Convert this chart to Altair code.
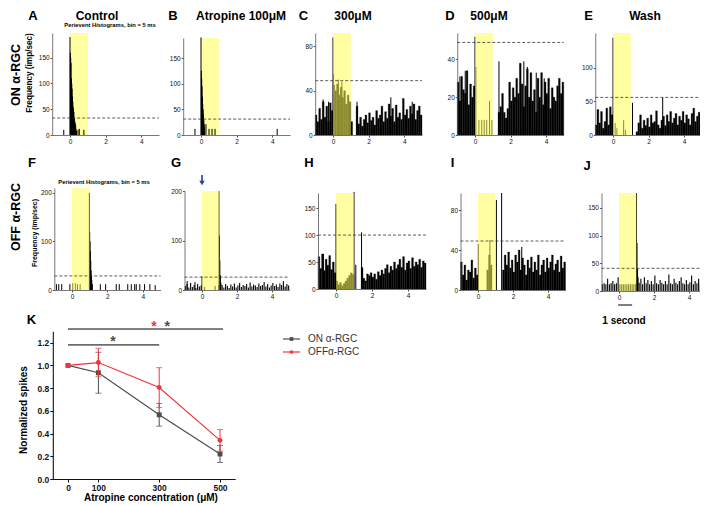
import altair as alt
import pandas as pd

FONT = "Liberation Sans"
W, H = 692, 497
M = 8

# ---------------- text content ----------------
ROW_LABELS = ["ON α-RGC", "OFF α-RGC"]
TITLES = ["Control", "Atropine 100μM", "300μM", "500μM", "Wash"]
LETTERS = ["A", "B", "C", "D", "E", "F", "G", "H", "I", "J", "K"]
Y_LABEL = "Frequency (imp/sec)"
PERI = "Perievent Histograms, bin = 5 ms"
X_TICKS = [0, 2, 4]

# ---------------- histogram data (0.1 s bins from -1 s to 5 s) ----------------
BIN_START = [round(-1.0 + 0.1 * i, 1) for i in range(60)]

C_BASE = [18, 12, 24, 14, 30, 16, 26, 12, 29, 22,
          45, 40, 46, 36, 43, 34, 40, 28, 36, 30,
          12, 0, 0, 26,
          10, 16, 8, 14, 18, 11, 20, 13, 16, 9, 22, 15, 18, 26, 12, 21, 15, 28, 17, 24,
          12, 27, 16, 20, 14, 33, 18, 23, 15, 26, 19, 28, 14, 22, 26, 18]
D_BASE = [28, 18, 31, 24, 22, 34, 16, 27, 20, 26,
          0, 0, 0, 0, 0, 0, 0, 0, 0, 0,
          0, 0, 0, 12,
          15, 22, 12, 9, 14, 28, 18, 25, 20, 30, 22, 38, 27, 15, 26, 35, 20, 33, 18, 24,
          12, 30, 20, 33, 16, 28, 22, 30, 14, 25, 20, 18, 26, 30, 22, 28]
E_BASE = [15, 38, 18, 35, 10, 20, 40, 15, 42, 30,
          0, 0, 0, 0, 0, 0, 0, 0, 0, 0,
          0, 0, 0, 5,
          18, 30, 10, 22, 14, 25, 12, 30, 18, 20, 36, 15, 10, 22, 28, 14, 30, 20, 35, 18,
          25, 32, 15, 28, 22, 35, 18, 30, 24, 15, 32, 40, 20, 28, 34, 25]
G_BASE = [8, 12, 5, 14, 6, 10, 4, 12, 7, 9,
          0, 6, 0, 0, 0, 0, 0, 8, 0, 10,
          6, 10, 5, 12, 8, 4, 11, 7, 13, 5, 9, 14, 6, 10, 8, 12, 5, 15, 7, 11,
          9, 6, 13, 8, 10, 16, 7, 12, 5, 9, 14, 8, 11, 6, 13, 10, 18, 7, 12, 9]
H_BASE = [60, 38, 65, 34, 55, 44, 62, 36, 50, 30,
          15, 8, 12, 6, 10, 15, 20, 25, 30, 27,
          0, 0, 0, 0,
          40, 20, 15, 28, 25, 30, 22, 28, 18, 32, 25, 35, 28, 38, 45, 30, 42, 35, 50, 38,
          45, 55, 40, 60, 35, 48, 52, 38, 58, 42, 50, 45, 55, 40, 52, 48]
I_BASE = [28, 15, 25, 10, 20, 18, 30, 12, 22, 15,
          0, 0, 0, 0, 0, 20, 35, 25, 0, 0,
          0, 0, 0, 0,
          20, 35, 25, 38, 22, 30, 18, 35, 28, 40, 20, 32, 25, 15, 30, 22, 33, 18, 28, 20,
          35, 15, 25, 30, 18, 32, 22, 28, 35, 20, 26, 30, 18, 34, 22, 28]
J_BASE = [12, 14, 12, 22, 12, 14, 18, 12, 14, 25,
          12, 12, 12, 12, 12, 12, 12, 12, 12, 12,
          0, 15, 22, 12, 25, 14, 20, 12, 18, 12, 28, 14, 12, 20, 15, 12, 18, 12, 30, 14,
          12, 22, 15, 12, 18, 25, 14, 12, 20, 12, 16, 28, 12, 18, 14, 22, 12, 15, 30, 18]

# isolated spikes: (time s, imp/sec)
A_SPK = [(-0.35, 10), (0.0, 190), (0.02, 160), (0.04, 150), (0.06, 140), (0.08, 110), (0.1, 100),
         (0.12, 90), (0.14, 75), (0.16, 65), (0.18, 55), (0.2, 50), (0.22, 45), (0.24, 35),
         (0.26, 30), (0.28, 25), (0.3, 22), (0.32, 18), (0.34, 12), (0.36, 8), (0.45, 10),
         (0.52, 12), (0.78, 10)]
B_SPK = [(-0.34, 12), (0.0, 190), (0.02, 125), (0.04, 110), (0.06, 95), (0.08, 75), (0.1, 60),
         (0.12, 50), (0.14, 40), (0.16, 30), (0.18, 22), (0.2, 15), (0.28, 21), (0.45, 12),
         (0.62, 12), (0.79, 12), (4.28, 12)]
C_SPK = [(0.0, 88), (0.03, 55), (0.3, 50), (0.5, 48), (-0.55, 32), (-0.25, 30), (1.35, 30),
         (3.25, 34), (4.45, 30)]
D_SPK = [(0.0, 52), (0.05, 36), (0.22, 8), (0.38, 8), (0.52, 8), (0.66, 8), (0.82, 18), (0.95, 8),
         (1.35, 39), (2.75, 39), (2.95, 36), (-0.55, 34), (-0.85, 31), (3.45, 33), (3.9, 30)]
E_SPK = [(0.0, 145), (0.12, 18), (0.22, 10), (0.6, 22), (0.7, 8), (1.1, 48), (2.8, 56)]
F_SPK = [(-0.88, 12), (-0.75, 12), (-0.58, 12), (-0.12, 12), (0.04, 14), (0.19, 14), (0.31, 12),
         (0.46, 12), (0.98, 200), (1.0, 120), (1.02, 100), (1.04, 80), (1.06, 60), (1.08, 40),
         (1.1, 30), (1.12, 20), (1.15, 12), (1.6, 12), (1.9, 12), (2.5, 12), (2.67, 12),
         (3.15, 12), (3.35, 12), (3.54, 12), (3.63, 12), (3.83, 12), (4.1, 12), (4.4, 12), (4.7, 10)]
G_SPK = [(0.0, 28), (0.97, 200), (1.0, 110), (1.02, 60), (1.05, 30), (1.08, 15), (-0.85, 18),
         (-0.4, 16)]
H_SPK = [(0.0, 158), (1.0, 180), (1.1, 45), (1.42, 105), (-0.7, 65)]
I_SPK = [(0.02, 46), (0.68, 50), (1.05, 90), (1.35, 97), (2.5, 43)]
J_SPK = [(1.0, 177), (1.03, 87), (1.06, 40), (1.09, 25)]

YMAX = {"A": 198, "B": 189, "C": 92, "D": 54, "E": 152,
        "F": 210, "G": 200, "H": 178, "I": 97, "J": 177}
THRESH = {"A": 33, "B": 31, "C": 49, "D": 49, "E": 56,
          "F": 29, "G": 26, "H": 100, "I": 49, "J": 41}
YTICKS = {"A": [0, 50, 100, 150], "B": [0, 50, 100, 150], "C": [0, 40, 80], "D": [0, 20, 40],
          "E": [0, 50, 100], "F": [0, 100, 200], "G": [0, 100, 200], "H": [0, 50, 100, 150],
          "I": [0, 40, 80], "J": [0, 50, 100, 150]}

# ---------------- panel K data ----------------
CONC = [0, 100, 300, 500]
ON_MEAN = [1.0, 0.935, 0.565, 0.22]
ON_ERR = [0.0, 0.18, 0.10, 0.075]
OFF_MEAN = [1.0, 1.025, 0.805, 0.34]
OFF_ERR = [0.0, 0.125, 0.175, 0.095]
SERIES = ["ON α-RGC", "OFFα-RGC"]
K_YTICKS = [0.0, 0.2, 0.4, 0.6, 0.8, 1.0, 1.2]
SIG_FROM = [0, 0]
SIG_TO = [510, 300]
SIG_Y = [1.32, 1.18]
STAR_X = [283, 326, 148]
STAR_Y = [1.373, 1.373, 1.241]
STAR_C = ["#f0353b", "#4d4d4d", "#4d4d4d"]

# ---------------- layout (page pixels) ----------------
# zero_x, px per second, y of 0, y of top
GEOM = {"A": (70, 17.8, 135, 33), "B": (201, 17.8, 135, 38), "C": (333, 17.8, 135, 33),
        "D": (475, 17.75, 135, 33), "E": (613, 17.75, 135, 33),
        "F": (72, 17.7, 290, 188), "G": (202, 17.5, 290, 191), "H": (336, 18, 289, 193),
        "I": (478, 17.5, 290, 193), "J": (619, 17.5, 291, 193)}


def P(v):
    return v - M


HAX = dict(title=None, grid=False, labelFontSize=6.5, labelFont=FONT, labelColor="#111",
           tickSize=2, tickColor="#555", domainColor="#555", domainWidth=0.8, labelPadding=1,
           labelOverlap=False, labelFlush=False, zindex=1)


def scales(key):
    zx, u, y0, yt = GEOM[key]
    xs = alt.Scale(domain=[-1, 5], range=[P(zx - u), P(zx + 5 * u)], nice=False, zero=False)
    ys = alt.Scale(domain=[0, YMAX[key]], range=[P(y0), P(yt)], nice=False, zero=False)
    return xs, ys


def hist(key, base, style, spikes, yellow_top=True):
    zx, u, y0, yt = GEOM[key]
    xs, ys = scales(key)
    xax = alt.Axis(orient="bottom", offset=P(y0) - H, values=X_TICKS, **HAX)
    yax = alt.Axis(orient="left", offset=-P(zx - u), values=YTICKS[key], **HAX)
    ls = []
    ydf = pd.DataFrame({"a": [0], "b": [1], "lo": [0], "hi": [YMAX[key]]})
    if yellow_top:
        yellow = alt.Chart(ydf).mark_rect(color="#FFFF55", opacity=0.55)
    else:
        yellow = alt.Chart(ydf).mark_rect(color="#FFFFA1")
    yellow = yellow.encode(x=alt.X("a:Q", scale=xs, axis=xax), x2=alt.X2("b"),
                           y=alt.Y("lo:Q", scale=ys, axis=yax), y2=alt.Y2("hi"))
    if not yellow_top:
        ls.append(yellow)
    if base is not None:
        df = pd.DataFrame({"t": BIN_START, "v": base})
        df = df[df["v"] > 0]
        if style == "fill":
            df = df.assign(t2=df["t"] + 0.1)
            ls.append(alt.Chart(df).mark_rect(color="black", stroke="black", strokeWidth=0.3).encode(
                x=alt.X("t:Q", scale=xs, axis=None), x2=alt.X2("t2"),
                y=alt.Y("v:Q", scale=ys, axis=None), y2=alt.datum(0)))
        else:
            df = df.assign(tc=df["t"] + 0.05)
            ls.append(alt.Chart(df).mark_rule(color="black", strokeWidth=1.1).encode(
                x=alt.X("tc:Q", scale=xs, axis=None),
                y=alt.Y("v:Q", scale=ys, axis=None), y2=alt.datum(0)))
    sdf = pd.DataFrame(spikes, columns=["t", "v"])
    ls.append(alt.Chart(sdf).mark_rule(color="black", strokeWidth=1.0).encode(
        x=alt.X("t:Q", scale=xs, axis=None), y=alt.Y("v:Q", scale=ys, axis=None), y2=alt.datum(0)))
    if yellow_top:
        ls.append(yellow)
    ddf = pd.DataFrame({"a": [-1], "b": [5], "v": [THRESH[key]]})
    ls.append(alt.Chart(ddf).mark_rule(color="#333", strokeWidth=0.8, strokeDash=[3, 2]).encode(
        x=alt.X("a:Q", scale=xs, axis=None), x2=alt.X2("b"), y=alt.Y("v:Q", scale=ys, axis=None)))
    return ls


def txt(s, x, y, size, weight="bold", angle=0, color="black", align="center", baseline="middle"):
    return alt.Chart(pd.DataFrame({"s": [s]})).mark_text(
        font=FONT, fontSize=size, fontWeight=weight, angle=angle, color=color,
        align=align, baseline=baseline).encode(text="s:N", x=alt.value(P(x)), y=alt.value(P(y)))


layers = []
layers += hist("A", None, "fill", A_SPK, yellow_top=False)
layers += hist("B", None, "fill", B_SPK, yellow_top=False)
layers += hist("C", C_BASE, "fill", C_SPK)
layers += hist("D", D_BASE, "fill", D_SPK)
layers += hist("E", E_BASE, "fill", E_SPK)
layers += hist("F", None, "fill", F_SPK)
layers += hist("G", G_BASE, "thin", G_SPK)
layers += hist("H", H_BASE, "fill", H_SPK)
layers += hist("I", I_BASE, "fill", I_SPK)
layers += hist("J", J_BASE, "thin", J_SPK)

# blue arrow over G at stimulus onset
gxs, _ = scales("G")
adf = pd.DataFrame({"t": [0]})
layers.append(alt.Chart(adf).mark_rule(color="#2e3c9c", strokeWidth=1.6).encode(
    x=alt.X("t:Q", scale=gxs, axis=None), y=alt.value(P(175)), y2=alt.value(P(182))))
layers.append(alt.Chart(adf).mark_point(shape="triangle-down", filled=True, size=30,
                                        color="#2e3c9c", opacity=1).encode(
    x=alt.X("t:Q", scale=gxs, axis=None), y=alt.value(P(183))))

# 1 second scale bar under J
jxs, _ = scales("J")
sbdf = pd.DataFrame({"a": [-0.05], "b": [0.75]})
layers.append(alt.Chart(sbdf).mark_rule(color="black", strokeWidth=1).encode(
    x=alt.X("a:Q", scale=jxs, axis=None), x2=alt.X2("b"), y=alt.value(P(305))))
layers.append(txt("1 second", 624, 321, 10))

# ---------------- panel K ----------------
kxs = alt.Scale(domain=[-50, 550], range=[P(52.8), P(235.2)], nice=False, zero=False)
kys = alt.Scale(domain=[0, 1.3], range=[P(479), P(331.3)], nice=False, zero=False)
KAX = dict(title=None, grid=False, labelFontSize=8.5, labelFont=FONT, labelFontWeight="bold",
           labelColor="#111", tickSize=3, tickColor="#111", domainColor="#111", domainWidth=1.1,
           labelPadding=1, labelOverlap=False, labelFlush=False, zindex=1)
kxax = alt.Axis(orient="bottom", offset=P(479) - H, values=CONC, **KAX)
kyax = alt.Axis(orient="left", offset=-P(52.8), values=K_YTICKS, format=".1f", **KAX)

kdf = pd.DataFrame({"conc": CONC + CONC, "mean": ON_MEAN + OFF_MEAN, "err": ON_ERR + OFF_ERR,
                    "series": [SERIES[0]] * 4 + [SERIES[1]] * 4})
kdf["lo"] = kdf["mean"] - kdf["err"]
kdf["hi"] = kdf["mean"] + kdf["err"]
cscale = alt.Scale(domain=SERIES, range=["#4d4d4d", "#f0353b"])
sscale = alt.Scale(domain=SERIES, range=["square", "circle"])
edf = kdf[kdf["err"] > 0]

for ser in SERIES:
    e = edf[edf["series"] == ser]
    d = kdf[kdf["series"] == ser]
    layers.append(alt.Chart(e).mark_rule(strokeWidth=1).encode(
        x=alt.X("conc:Q", scale=kxs, axis=None), y=alt.Y("lo:Q", scale=kys, axis=None), y2=alt.Y2("hi"),
        color=alt.Color("series:N", scale=cscale, legend=None)))
    for col in ["lo", "hi"]:
        layers.append(alt.Chart(e).mark_tick(orient="horizontal", size=6, thickness=1).encode(
            x=alt.X("conc:Q", scale=kxs, axis=None), y=alt.Y(f"{col}:Q", scale=kys, axis=None),
            color=alt.Color("series:N", scale=cscale, legend=None)))
    layers.append(alt.Chart(d).mark_line(strokeWidth=1.2).encode(
        x=alt.X("conc:Q", scale=kxs, axis=kxax if ser == SERIES[0] else None),
        y=alt.Y("mean:Q", scale=kys, axis=kyax if ser == SERIES[0] else None),
        color=alt.Color("series:N", scale=cscale, legend=None)))
    layers.append(alt.Chart(d).mark_point(filled=True, size=24, opacity=1).encode(
        x=alt.X("conc:Q", scale=kxs, axis=None), y=alt.Y("mean:Q", scale=kys, axis=None),
        color=alt.Color("series:N", scale=cscale, legend=None),
        shape=alt.Shape("series:N", scale=sscale, legend=None)))

sigdf = pd.DataFrame({"a": SIG_FROM, "b": SIG_TO, "y": SIG_Y})
layers.append(alt.Chart(sigdf).mark_rule(color="black", strokeWidth=1).encode(
    x=alt.X("a:Q", scale=kxs, axis=None), x2=alt.X2("b"), y=alt.Y("y:Q", scale=kys, axis=None)))
stdf = pd.DataFrame({"x": STAR_X, "y": STAR_Y, "c": STAR_C, "s": ["*"] * 3})
layers.append(alt.Chart(stdf).mark_text(font=FONT, fontSize=14, fontWeight="bold", dy=4).encode(
    x=alt.X("x:Q", scale=kxs, axis=None), y=alt.Y("y:Q", scale=kys, axis=None),
    text="s:N", color=alt.Color("c:N", scale=None)))

# legend (manual)
for i, (ser, col, shp) in enumerate(zip(SERIES, ["#4d4d4d", "#f0353b"], ["square", "circle"])):
    yy = 339 + 13 * i
    layers.append(alt.Chart(pd.DataFrame({"s": [ser]})).mark_rule(color=col, strokeWidth=1.2).encode(
        x=alt.value(P(283)), x2=alt.value(P(300)), y=alt.value(P(yy))))
    layers.append(alt.Chart(pd.DataFrame({"s": [ser]})).mark_point(
        shape=shp, filled=True, size=14, color=col, opacity=1).encode(
        x=alt.value(P(291.5)), y=alt.value(P(yy))))
    layers.append(txt(ser, 308, yy, 10, weight="normal", color="#333", align="left"))

# ---------------- text labels ----------------
for L, x, y in zip(LETTERS, [33, 173, 303.5, 450, 588.5, 32, 176, 309, 452.5, 587, 31.5],
                   [16, 16, 16, 16, 16, 163, 163, 163, 163, 166, 320]):
    layers.append(txt(L, x, y, 13))
for t, x in zip(TITLES, [97, 241, 353, 489, 645]):
    layers.append(txt(t, x, 16, 12))
layers.append(txt(PERI, 110, 25, 5.8))
layers.append(txt(PERI, 104, 182, 5.8))
layers.append(txt(ROW_LABELS[0], 16, 75, 12.5, angle=270))
layers.append(txt(ROW_LABELS[1], 16, 217, 12.5, angle=270))
layers.append(txt(Y_LABEL, 30, 73, 8.2, angle=270))
layers.append(txt(Y_LABEL, 35, 233, 7, angle=270))
layers.append(txt("Normalized spikes", 24, 410, 10, angle=270))
layers.append(txt("Atropine concentration (μM)", 151, 498, 10))

chart = alt.layer(*layers).resolve_scale(
    x="independent", y="independent", color="independent", shape="independent"
).properties(width=W, height=H, padding=0, autosize=alt.AutoSizeParams(type="none")
).configure_view(strokeWidth=0)

chart.save("out.html", embed_options={"renderer": "svg", "actions": False})
